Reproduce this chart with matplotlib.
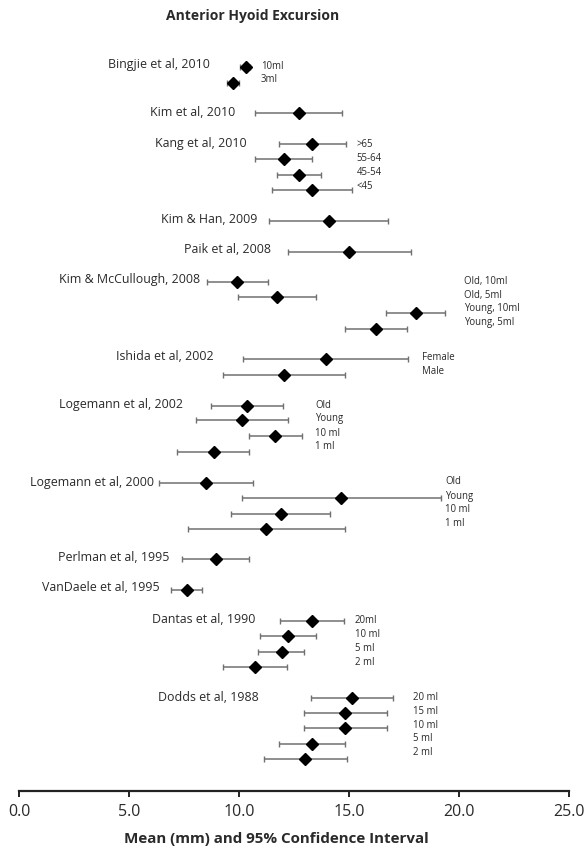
import matplotlib
matplotlib.use("Agg")
import matplotlib.pyplot as plt

plt.rcParams['font.family'] = ['Open Sans', 'DejaVu Sans']

# ---- data ----
means = [10.32, 9.71, 12.73, 13.33, 12.03, 12.73, 13.33, 14.08, 15.02,
         9.92, 11.71, 18.05, 16.23, 13.94, 12.03,
         10.35, 10.15, 11.65, 8.85, 8.51, 14.64, 11.89, 11.23,
         8.94, 7.64, 13.33, 12.21, 11.94, 10.73,
         15.12, 14.80, 14.80, 13.33, 13.02]
ci_low = [10.05, 9.47, 10.74, 11.82, 10.74, 11.73, 11.52, 11.35, 12.23,
          8.53, 9.94, 16.68, 14.82, 10.18, 9.26,
          8.74, 8.03, 10.47, 7.20, 6.36, 10.14, 9.64, 7.70,
          7.39, 6.90, 11.85, 10.95, 10.88, 9.26,
          13.26, 12.94, 12.94, 11.82, 11.15]
ci_high = [10.50, 10.01, 14.68, 14.85, 13.33, 13.73, 15.14, 16.77, 17.83,
           11.33, 13.49, 19.38, 17.64, 17.67, 14.82,
           11.98, 12.24, 12.85, 10.47, 10.65, 19.17, 14.15, 14.80,
           10.47, 8.33, 14.79, 13.49, 12.97, 12.20,
           16.98, 16.71, 16.71, 14.82, 14.89]

studies = ["Bingjie et al, 2010", "Kim et al, 2010", "Kang et al, 2010",
           "Kim & Han, 2009", "Paik et al, 2008", "Kim & McCullough, 2008",
           "Ishida et al, 2002", "Logemann et al, 2002", "Logemann et al, 2000",
           "Perlman et al, 1995", "VanDaele et al, 1995", "Dantas et al, 1990",
           "Dodds et al, 1988"]

subgroups = [["10ml", "3ml"], [], [">65", "55-64", "45-54", "<45"], [], [],
             ["Old, 10ml", "Old, 5ml", "Young, 10ml", "Young, 5ml"],
             ["Female", "Male"], ["Old", "Young", "10 ml", "1 ml"],
             ["Old", "Young", "10 ml", "1 ml"], [], [],
             ["20ml", "10 ml", "5 ml", "2 ml"],
             ["20 ml", "15 ml", "10 ml", "5 ml", "2 ml"]]

xticks = [0.0, 5.0, 10.0, 15.0, 20.0, 25.0]

# ---- layout (vertical positions in pixel-like units, top = small) ----
row_y = [67, 83, 113, 144, 159, 175, 190, 221, 252,
         282, 297, 313, 329, 359, 375,
         406, 420, 436, 452, 483, 498, 514, 529,
         559, 590, 621, 636, 652, 667,
         698, 713, 728, 744, 759]
study_label_pos = [(8.68, 65), (9.82, 113), (10.36, 144), (10.85, 220),
                   (11.44, 250), (8.23, 280), (8.83, 357), (7.47, 405),
                   (6.14, 483), (6.83, 558), (6.38, 588), (10.73, 620),
                   (10.92, 698)]
sub_label_x = [11.0, None, 15.35, None, None, 20.23, 18.32, 13.45, 19.36,
               None, None, 15.27, 17.92]
sub_label_y = [[67, 80], [], [145, 159, 173, 187], [], [],
               [282, 296, 309, 323], [358, 372], [406, 419, 434, 447],
               [482, 497, 510, 524], [], [], [621, 635, 649, 663],
               [698, 712, 726, 739, 753]]

W, H = 587, 851
fig = plt.figure(figsize=(W / 100, H / 100), dpi=100)
ax_top, ax_bot = 40, 791
ax = fig.add_axes([19 / W, 1 - ax_bot / H, (569 - 19) / W, (ax_bot - ax_top) / H])
ax.set_xlim(0, 25)
ax.set_ylim(ax_bot, ax_top)

xerr = [[m - lo for m, lo in zip(means, ci_low)],
        [hi - m for m, hi in zip(means, ci_high)]]
ax.errorbar(means, row_y, xerr=xerr, fmt='D', color='black', markersize=5.8,
            ecolor='#707070', elinewidth=1.1, capsize=2.5, capthick=1.0)

txt_color = '#2a2a2a'
for name, (lx, ly) in zip(studies, study_label_pos):
    ax.text(lx, ly, name, ha='right', va='center', fontsize=8.9, color=txt_color)
for sx, labs, ys in zip(sub_label_x, subgroups, sub_label_y):
    for lab, yy in zip(labs, ys):
        ax.text(sx, yy, lab, ha='left', va='center', fontsize=6.9, color=txt_color)

for side in ['left', 'right', 'top']:
    ax.spines[side].set_visible(False)
ax.spines['bottom'].set_linewidth(1.6)
ax.spines['bottom'].set_color('#222222')
ax.set_yticks([])
ax.set_xticks(xticks)
ax.set_xticklabels([f"{t:.1f}" for t in xticks], fontsize=11.5, color=txt_color)
ax.tick_params(axis='x', direction='out', length=4, width=1.4, pad=5, color='#222222')

fig.text(253 / W, 1 - 16 / H, "Anterior Hyoid Excursion", ha='center', va='center',
         fontsize=10, fontweight='bold', color=txt_color)
fig.text(276 / W, 1 - 839 / H, "Mean (mm) and 95% Confidence Interval", ha='center',
         va='center', fontsize=10.9, fontweight='bold', color=txt_color)

fig.savefig("out.png", dpi=100)
